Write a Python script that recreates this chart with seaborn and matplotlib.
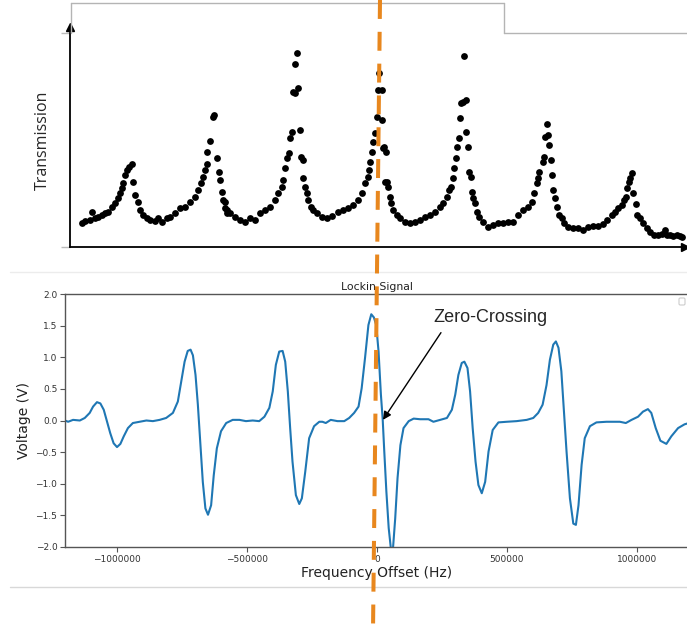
import matplotlib
matplotlib.use("Agg")
import matplotlib.pyplot as plt
from matplotlib.lines import Line2D
from matplotlib.patches import FancyBboxPatch
import seaborn as sns

sns.set_style("white")

W, H = 687, 631

# top panel: transmission scan (scan position and transmission, arb. units)
scan_pos = [12, 15, 22, 20, 25, 28, 32, 35, 38, 42, 45, 48, 50, 52, 53, 55, 57, 59, 62, 63,
            65, 68, 70, 73, 77, 80, 85, 88, 92, 97, 100, 105, 110, 115, 120, 125, 128, 131, 133, 135,
            137, 137, 140, 143, 144, 147, 149, 150, 152, 153, 155, 157, 155, 157, 160, 165, 170, 175, 180, 185,
            190, 195, 200, 205, 208, 212, 213, 215, 217, 219, 220, 222, 223, 225, 228, 225, 227, 230, 231, 233,
            233, 235, 237, 238, 241, 243, 247, 252, 257, 262, 268, 273, 278, 283, 288, 292, 295, 298, 299, 300,
            302, 303, 305, 307, 308, 309, 312, 313, 315, 312, 314, 316, 317, 318, 320, 321, 323, 327, 330, 335,
            340, 345, 350, 355, 360, 365, 370, 373, 377, 379, 381, 383, 384, 386, 387, 389, 390, 391, 393, 396,
            394, 396, 398, 399, 401, 402, 403, 405, 407, 409, 413, 418, 423, 428, 433, 438, 443, 448, 453, 458,
            462, 464, 467, 468, 469, 473, 474, 475, 478, 477, 479, 481, 482, 483, 485, 487, 489, 492, 494, 498,
            503, 508, 513, 518, 523, 528, 533, 537, 542, 545, 548, 552, 554, 556, 557, 559, 560, 562, 563, 566,
            567, 570, 573, 577, 580, 584, 588, 592, 595, 597, 600, 603, 607, 610, 612]
transmission = [24, 26, 35, 27, 29, 30, 32, 34, 35, 40, 44, 49, 54, 59, 64, 72, 77, 80, 83, 65,
                52, 45, 37, 32, 29, 27, 26, 29, 25, 29, 30, 34, 39, 40, 45, 50, 57, 64, 70, 77,
                83, 95, 106, 130, 132, 89, 75, 67, 55, 47, 39, 34, 45, 37, 34, 30, 27, 25, 29, 27,
                34, 37, 40, 47, 54, 60, 67, 79, 89, 94, 109, 115, 155, 154, 159, 183, 194, 117, 90, 87,
                69, 60, 54, 47, 40, 37, 34, 30, 29, 31, 35, 37, 39, 42, 47, 54, 64, 70, 77, 85,
                95, 105, 114, 130, 157, 174, 127, 99, 65, 157, 100, 95, 65, 60, 50, 44, 37, 32, 29, 25,
                24, 25, 27, 30, 32, 35, 40, 44, 50, 57, 60, 69, 79, 89, 100, 109, 129, 144, 145, 147,
                191, 115, 100, 75, 70, 55, 49, 44, 35, 30, 25, 20, 22, 24, 24, 25, 25, 32, 37, 40,
                45, 54, 64, 69, 75, 85, 90, 110, 112, 123, 102, 87, 72, 57, 49, 40, 32, 29, 24, 20,
                19, 19, 17, 20, 21, 21, 23, 27, 32, 35, 39, 42, 47, 50, 59, 65, 69, 74, 54, 43,
                32, 29, 24, 19, 15, 12, 12, 13, 17, 12, 12, 11, 12, 11, 10]

# bottom panel: lock-in error signal
freq_hz = [-1200000, -1188000, -1169000, -1143000, -1124000, -1105000, -1092000, -1077000, -1064000, -1051000,
           -1038000, -1026000, -1013000, -1000000, -987000, -974000, -958000, -939000, -913000, -887000,
           -862000, -836000, -811000, -785000, -766000, -753000, -740000, -728000, -717000, -708000,
           -698000, -689000, -679000, -670000, -660000, -650000, -638000, -628000, -616000, -600000,
           -580000, -555000, -529000, -504000, -478000, -453000, -433000, -414000, -401000, -389000,
           -376000, -363000, -353000, -343000, -334000, -325000, -312000, -299000, -289000, -276000,
           -261000, -242000, -222000, -210000, -197000, -178000, -152000, -126000, -107000, -88000,
           -71000, -59000, -46000, -33000, -22000, -12000, -3000, 6000, 15000, 22000,
           28000, 36000, 45000, 54000, 61000, 70000, 79000, 90000, 102000, 122000,
           141000, 166000, 198000, 217000, 243000, 269000, 288000, 301000, 313000, 326000,
           336000, 348000, 358000, 368000, 379000, 390000, 403000, 416000, 429000, 445000,
           467000, 499000, 537000, 576000, 601000, 620000, 637000, 652000, 665000, 678000,
           688000, 698000, 709000, 719000, 729000, 742000, 755000, 765000, 775000, 787000,
           799000, 819000, 844000, 883000, 934000, 957000, 979000, 1004000, 1023000, 1042000,
           1055000, 1072000, 1090000, 1113000, 1132000, 1158000, 1183000, 1200000]
voltage = [0.0, -0.02, 0.01, 0.0, 0.04, 0.12, 0.22, 0.29, 0.27, 0.17,
           -0.02, -0.2, -0.36, -0.42, -0.37, -0.25, -0.12, -0.04, -0.02, 0.0,
           -0.01, 0.01, 0.04, 0.12, 0.3, 0.62, 0.93, 1.1, 1.12, 1.03,
           0.72, 0.25, -0.39, -0.97, -1.39, -1.49, -1.34, -0.87, -0.44, -0.17,
           -0.04, 0.01, 0.01, -0.01, 0.0, -0.01, 0.06, 0.2, 0.46, 0.88,
           1.09, 1.1, 0.93, 0.46, -0.12, -0.65, -1.18, -1.32, -1.23, -0.81,
           -0.28, -0.09, -0.02, -0.02, -0.04, 0.01, -0.01, -0.01, 0.04, 0.12,
           0.22, 0.51, 0.99, 1.51, 1.68, 1.63, 1.51, 1.09, 0.41, 0.01,
           -0.49, -1.12, -1.7, -2.05, -2.05, -1.55, -0.91, -0.39, -0.12, -0.01,
           0.03, 0.02, 0.02, -0.02, 0.01, 0.04, 0.17, 0.41, 0.72, 0.91,
           0.93, 0.83, 0.46, -0.12, -0.65, -1.02, -1.15, -0.97, -0.49, -0.15,
           -0.03, -0.02, -0.01, 0.01, 0.04, 0.12, 0.25, 0.56, 0.96, 1.2,
           1.25, 1.15, 0.78, 0.14, -0.49, -1.23, -1.63, -1.65, -1.34, -0.7,
           -0.28, -0.09, -0.03, -0.02, -0.02, -0.04, 0.01, 0.06, 0.14, 0.18,
           0.12, -0.12, -0.32, -0.37, -0.25, -0.12, -0.06, -0.04]

x_ticks = [-1000000, -500000, 0, 500000, 1000000]
y_ticks = [-2.0, -1.5, -1.0, -0.5, 0.0, 0.5, 1.0, 1.5, 2.0]


def fx(px):
    return px / W


def fy(py):
    return 1 - py / H


fig = plt.figure(figsize=(W / 100, H / 100), dpi=100)

# --- top: transmission scan ---
ax1 = fig.add_axes([fx(70), fy(247), 615 / W, 214 / H])
sns.scatterplot(x=scan_pos, y=transmission, color="black", s=24, linewidth=0, ax=ax1)
ax1.set_xlim(0, 615)
ax1.set_ylim(0, 214)
for side in ["top", "right"]:
    ax1.spines[side].set_visible(False)
for side in ["left", "bottom"]:
    ax1.spines[side].set_color("black")
    ax1.spines[side].set_linewidth(1.3)
ax1.set_xticks([])
ax1.set_yticks([0, 214])
ax1.set_yticklabels([])
ax1.tick_params(axis="y", left=True, length=6.5, width=1, color="#bbbbbb")
ax1.plot(1, 0, ">k", markersize=6, transform=ax1.transAxes, clip_on=False)
ax1.plot(0, 1.03, "^k", markersize=6, transform=ax1.transAxes, clip_on=False)
ax1.set_ylabel("Transmission", fontsize=11.5, family="Open Sans", labelpad=4)

# --- bottom: lock-in signal ---
ax2 = fig.add_axes([fx(65), fy(547), 624 / W, 253 / H])
sns.lineplot(x=freq_hz, y=voltage, color="#1f77b4", linewidth=1.5, ax=ax2)
ax2.set_xlim(-1200000, 1200000)
ax2.set_ylim(-2.0, 2.0)
ax2.set_xticks(x_ticks)
ax2.set_yticks(y_ticks)
ax2.ticklabel_format(axis="x", style="plain", useOffset=False)
for side in ax2.spines.values():
    side.set_color("#555555")
    side.set_linewidth(1.0)
ax2.tick_params(axis="both", which="both", bottom=True, left=True, direction="out",
                length=3.5, width=0.8, color="#555555", labelsize=6.5, labelcolor="#333333", pad=2)
ax2.set_title("Lockin Signal", fontsize=7.8, color="#222222", pad=3)
ax2.set_xlabel("Frequency Offset (Hz)", fontsize=10, color="#222222", labelpad=2)
ax2.set_ylabel("Voltage (V)", fontsize=10, color="#222222", labelpad=3)

ax2.annotate("Zero-Crossing", xy=(23000, 0.01), xytext=(215000, 1.63),
             fontsize=13, family="Liberation Sans", ha="left", va="center",
             arrowprops=dict(arrowstyle="-|>", color="black", lw=1.0, mutation_scale=12,
                             relpos=(0.11, 0.0), shrinkA=3, shrinkB=0),
             annotation_clip=False)

# empty legend box in the corner
fig.add_artist(FancyBboxPatch((fx(679), fy(305)), 6 / W, 7 / H,
                              boxstyle="round,pad=0,rounding_size=0.002",
                              transform=fig.transFigure, facecolor="white",
                              edgecolor="#cccccc", linewidth=0.8))

# --- frame / separator lines of the composite ---
frame = "#b4b4b4"
for (x0, y0), (x1, y1) in [((71, 3), (504, 3)), ((504, 3), (504, 33)),
                           ((504, 33), (687, 33)), ((71, 3), (71, 33))]:
    fig.add_artist(Line2D([fx(x0), fx(x1)], [fy(y0), fy(y1)], color=frame, lw=1.0))
fig.add_artist(Line2D([fx(10), fx(687)], [fy(272), fy(272)], color="#ececec", lw=1.0))
fig.add_artist(Line2D([fx(10), fx(687)], [fy(587), fy(587)], color="#d8d8d8", lw=1.0))

# orange dashed marker through the resonance centre
fig.add_artist(Line2D([fx(380), fx(373)], [1.0, 0.0], color="#e8871e", lw=2.9,
                      dashes=(4.7, 3.2), zorder=10))

fig.savefig("out.png", dpi=100)
